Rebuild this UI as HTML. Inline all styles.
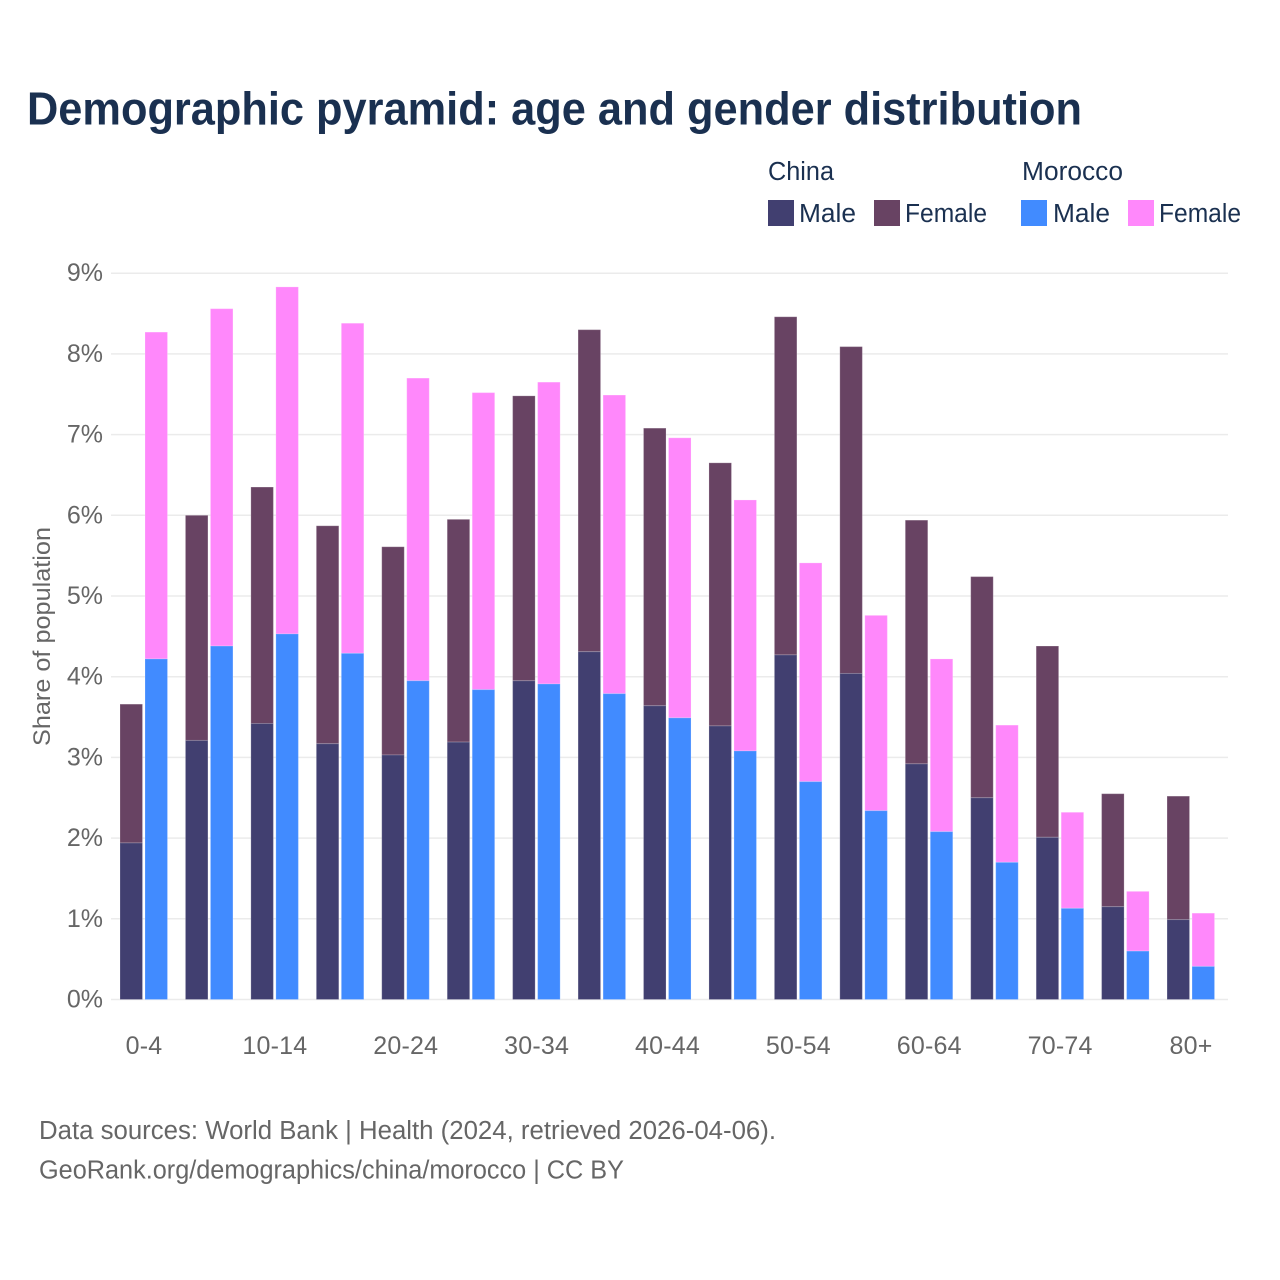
<!DOCTYPE html>
<html lang="en">
<head>
<meta charset="utf-8">
<title>Demographic pyramid</title>
<style>
html,body{margin:0;padding:0;background:#fff;width:1280px;height:1280px;overflow:hidden}
svg{display:block}
text{font-family:"Liberation Sans",sans-serif}
</style>
</head>
<body>
<svg id="chart" xmlns="http://www.w3.org/2000/svg" width="1280" height="1280" viewBox="0 0 1280 1280">
  <rect x="0" y="0" width="1280" height="1280" fill="#fff"/>
  <text x="27" y="124.5" font-size="46" font-weight="700" fill="#1a3050" textLength="1055" lengthAdjust="spacingAndGlyphs">Demographic pyramid: age and gender distribution</text>

  <g id="grid"></g>
  <g id="yticks"></g>
  <g id="bars"></g>
  <g id="xticks"></g>
  <text transform="translate(50,746) rotate(-90)" font-size="24.5" fill="#666" textLength="219" lengthAdjust="spacingAndGlyphs">Share of population</text>

  <g>
    <text x="768" y="180" font-size="25.5" fill="#1a3050" textLength="66" lengthAdjust="spacingAndGlyphs">China</text>
    <text x="1022" y="180" font-size="25.5" fill="#1a3050" textLength="101" lengthAdjust="spacingAndGlyphs">Morocco</text>
    <rect x="768" y="200" width="26" height="26" fill="#413f70"/>
    <text x="799" y="222" font-size="25.5" fill="#1a3050" textLength="57" lengthAdjust="spacingAndGlyphs">Male</text>
    <rect x="874" y="200" width="26" height="26" fill="#684363"/>
    <text x="905" y="222" font-size="25.5" fill="#1a3050" textLength="82" lengthAdjust="spacingAndGlyphs">Female</text>
    <rect x="1021" y="200" width="26" height="26" fill="#418bff"/>
    <text x="1053" y="222" font-size="25.5" fill="#1a3050" textLength="57" lengthAdjust="spacingAndGlyphs">Male</text>
    <rect x="1128" y="200" width="26" height="26" fill="#ff88fb"/>
    <text x="1159" y="222" font-size="25.5" fill="#1a3050" textLength="82" lengthAdjust="spacingAndGlyphs">Female</text>
  </g>

  <text x="39" y="1139" font-size="25.5" fill="#666" textLength="737" lengthAdjust="spacingAndGlyphs">Data sources: World Bank | Health (2024, retrieved 2026-04-06).</text>
  <text x="39" y="1178.5" font-size="25.5" fill="#666" textLength="585" lengthAdjust="spacingAndGlyphs">GeoRank.org/demographics/china/morocco | CC BY</text>
</svg>
<script>
const ageGroups = ["0-4","5-9","10-14","15-19","20-24","25-29","30-34","35-39","40-44","45-49","50-54","55-59","60-64","65-69","70-74","75-79","80+"];
const xTickLabels = ["0-4","10-14","20-24","30-34","40-44","50-54","60-64","70-74","80+"];
const yTickValues = [0,1,2,3,4,5,6,7,8,9];
const chinaMale = [1.94,3.21,3.42,3.17,3.03,3.19,3.95,4.31,3.64,3.39,4.27,4.04,2.92,2.50,2.01,1.15,0.99];
const chinaFemale = [1.72,2.79,2.93,2.70,2.58,2.76,3.53,3.99,3.44,3.26,4.19,4.05,3.02,2.74,2.37,1.40,1.53];
const moroccoMale = [4.22,4.38,4.53,4.29,3.95,3.84,3.91,3.79,3.49,3.08,2.70,2.34,2.08,1.70,1.13,0.60,0.41];
const moroccoFemale = [4.05,4.18,4.30,4.09,3.75,3.68,3.74,3.70,3.47,3.11,2.71,2.42,2.14,1.70,1.19,0.74,0.66];

const NS = "http://www.w3.org/2000/svg";
const y0 = 999.5, pxPerUnit = 80.7;
const groupStart = 143.5, groupStep = 65.44;
const barW = 22.5, leftOffset = -23.5, rightOffset = 1.5;
function yScale(v){ return y0 - v * pxPerUnit; }
function xScale(i){ return groupStart + i * groupStep; }
function make(tag, attrs){
  const el = document.createElementNS(NS, tag);
  for (const k in attrs) el.setAttribute(k, attrs[k]);
  return el;
}
const gridG = document.getElementById("grid");
const yG = document.getElementById("yticks");
const xG = document.getElementById("xticks");
const barsG = document.getElementById("bars");

yTickValues.forEach(function(v){
  const line = make("line", {x1:111, x2:1228, y1:yScale(v), y2:yScale(v), stroke:"#ebebeb", "stroke-width":1.5});
  
  
  gridG.appendChild(line);
  const t = make("text", {x:103, y:yScale(v)+8, "text-anchor":"end", "font-size":25, fill:"#666"});
  
  
  t.textContent = v + "%";
  yG.appendChild(t);
});

ageGroups.forEach(function(g, i){
  const k = xTickLabels.indexOf(g);
  if (k < 0) return;
  const t = make("text", {x:xScale(i)+0.5, y:1054, "text-anchor":"middle", "font-size":25, "letter-spacing":0.2, fill:"#666"});
  
  
  t.textContent = xTickLabels[k];
  xG.appendChild(t);
});

function drawSegment(x, base, value, fill){
  const top = base + value;
  const r = make("rect", {x:x, y:yScale(top), width:barW, height:yScale(base)-yScale(top), fill:fill, stroke:"#ffffff", "stroke-opacity":0.2, "stroke-width":1});
  
  
  barsG.appendChild(r);
}
ageGroups.forEach(function(g, i){
  const cx = xScale(i);
  const leftX = cx + leftOffset;
  const rightX = cx + rightOffset;
  drawSegment(leftX, chinaMale[i], chinaFemale[i], "#684363");
  drawSegment(leftX, 0, chinaMale[i], "#413f70");
  drawSegment(rightX, moroccoMale[i], moroccoFemale[i], "#ff88fb");
  drawSegment(rightX, 0, moroccoMale[i], "#418bff");
});
</script>
</body>
</html>
